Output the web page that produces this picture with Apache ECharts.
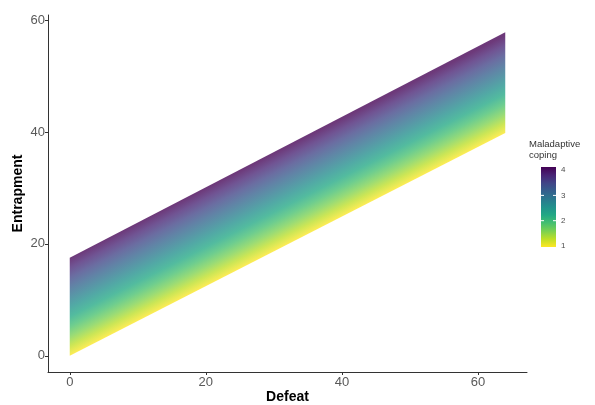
<!DOCTYPE html>
<html>
<head>
<meta charset="utf-8">
<script src="https://cdn.jsdelivr.net/npm/echarts@6/dist/echarts.min.js"></script>
<style>
  html, body { margin: 0; padding: 0; background: #fff; }
  #main { width: 595px; height: 405px; }
</style>
</head>
<body>
<div id="main"></div>
<script>
// values
var defeat = [0, 64];            // x extent of every line
var lowCoping = [0, 39.8];       // entrapment at coping = 1
var highCoping = [17.5, 57.8];   // entrapment at coping = 4
var copingTicks = [1, 2, 3, 4];
var xTicks = [0, 20, 40, 60];
var yTicks = [0, 20, 40, 60];

var viridis = ['#fde725', '#bddf26', '#7ad151', '#44bf70', '#22a884', '#21918c',
    '#2a788e', '#355f8d', '#414487', '#482475', '#440154'];

function stops(list) {
    return list.map(function (c, i) {
        return {offset: i / (list.length - 1), color: c};
    });
}

var chart = echarts.init(document.getElementById('main'));

var option = {
    animation: false,
    textStyle: {fontFamily: 'Liberation Sans'},
    grid: {left: 48, right: 68, top: 15, bottom: 33, containLabel: false, outerBoundsMode: 'none'},
    xAxis: {
        type: 'value',
        min: -3.2,
        max: 67.2,
        name: 'Defeat',
        nameLocation: 'middle',
        nameGap: 18,
        nameMoveOverlap: false,
        nameTextStyle: {fontSize: 14, fontWeight: 'bold', color: '#000'},
        axisLine: {onZero: false, lineStyle: {color: '#333', width: 1}},
        axisTick: {show: true, length: 3, customValues: xTicks, lineStyle: {color: '#333'}},
        axisLabel: {customValues: xTicks, color: '#595959', fontSize: 13, margin: 4},
        splitLine: {show: false}
    },
    yAxis: {
        type: 'value',
        min: -2.9,
        max: 60.9,
        name: 'Entrapment',
        nameLocation: 'middle',
        nameGap: 23,
        nameMoveOverlap: false,
        nameRotate: 90,
        nameTextStyle: {fontSize: 14, fontWeight: 'bold', color: '#000'},
        axisLine: {show: true, onZero: false, lineStyle: {color: '#333', width: 1}},
        axisTick: {show: true, length: 3, customValues: yTicks, lineStyle: {color: '#333'}},
        axisLabel: {customValues: yTicks, color: '#595959', fontSize: 13, margin: 3},
        splitLine: {show: false}
    },
    series: [{
        type: 'custom',
        data: [[defeat[0], defeat[1], lowCoping[0], lowCoping[1], highCoping[0], highCoping[1]]],
        encode: {x: [0, 1], y: [2, 3, 4, 5]},
        renderItem: function (params, api) {
            var a = api.coord([api.value(0), api.value(2)]);
            var b = api.coord([api.value(1), api.value(3)]);
            var c = api.coord([api.value(1), api.value(5)]);
            var d = api.coord([api.value(0), api.value(4)]);
            // colour is constant along the lines: gradient runs across them
            var dx = b[0] - a[0], dy = b[1] - a[1];
            var len = Math.sqrt(dx * dx + dy * dy);
            var nx = -dy / len, ny = dx / len;
            var t = (d[0] - a[0]) * nx + (d[1] - a[1]) * ny;
            return {
                type: 'polygon',
                shape: {points: [a, b, c, d]},
                style: {
                    fill: {
                        type: 'linear', global: true,
                        x: a[0], y: a[1], x2: a[0] + nx * t, y2: a[1] + ny * t,
                        colorStops: stops(viridis)
                    },
                    opacity: 0.78
                }
            };
        }
    }]
};

// colour bar legend
var barLeft = 541, barTop = 167, barW = 15, barH = 80;
function legendY(v) { return barTop + barH - 1 - (v - 1) * 25.3; }

var graphics = [
    {
        type: 'text', left: 529, top: 139,
        style: {text: 'Maladaptive\ncoping', fontSize: 9.5, fill: '#333', lineHeight: 11, fontFamily: 'Liberation Sans'}
    },
    {
        type: 'rect',
        shape: {x: barLeft, y: barTop, width: barW, height: barH},
        style: {fill: new echarts.graphic.LinearGradient(0, 1, 0, 0, stops(viridis))}
    }
];
copingTicks.forEach(function (v) {
    var y = legendY(v);
    graphics.push({
        type: 'text', x: barLeft + barW + 5, y: y,
        style: {text: String(v), fontSize: 8, fill: '#4d4d4d', verticalAlign: 'middle', fontFamily: 'Liberation Sans'}
    });
    if (v > 1 && v < 4) {
        graphics.push({type: 'line', shape: {x1: barLeft, y1: y, x2: barLeft + 3, y2: y}, style: {stroke: '#fff', lineWidth: 1}});
        graphics.push({type: 'line', shape: {x1: barLeft + barW - 3, y1: y, x2: barLeft + barW, y2: y}, style: {stroke: '#fff', lineWidth: 1}});
    }
});
option.graphic = graphics;

chart.setOption(option);
</script>
</body>
</html>
